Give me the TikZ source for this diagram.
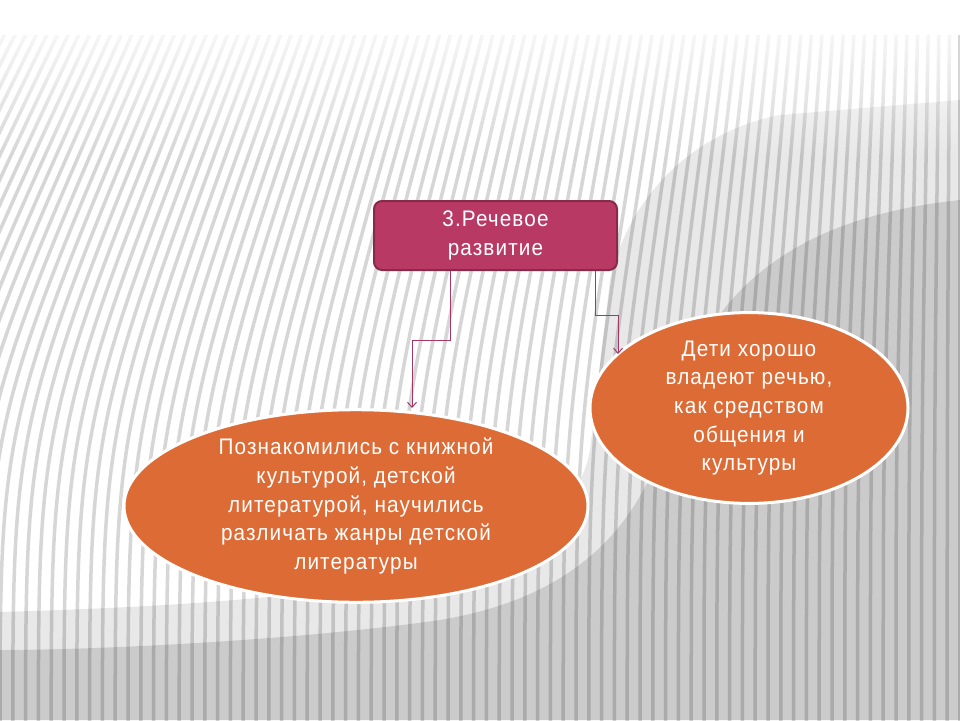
\documentclass[tikz,border=0pt]{standalone}
\usepackage{fontspec}
\newfontfamily\lsans{Liberation Sans}[LetterSpace=5,FakeStretch=0.92]
\usetikzlibrary{shapes.geometric,arrows.meta,fadings}
\tikzfading[name=fadedown, top color=transparent!0, bottom color=transparent!100]
\definecolor{boxfill}{HTML}{B83A64}
\definecolor{boxline}{HTML}{8A2A4A}
\definecolor{orangefill}{HTML}{DD6B35}
\definecolor{conn}{HTML}{A33765}
\tikzset{
  titlebox/.style={draw=boxline, line width=2pt, fill=boxfill, rounded corners=8pt,
    minimum width=243pt, minimum height=69pt, inner sep=0pt, align=center,
    text=white, font=\lsans\fontsize{22.5}{28.5}\selectfont},
  oval/.style={ellipse, draw=white, line width=3pt, fill=orangefill, inner sep=0pt,
    align=center, text=white, font=\lsans\fontsize{22.5}{28.7}\selectfont},
  link/.style={draw=conn, line width=1pt, -{Straight Barb[length=5pt,width=9pt,line width=1pt]}},
  stripe/.style={draw=black!16, line width=3.5pt},
}
\begin{document}
\begin{tikzpicture}[x=1pt,y=-1pt]
\useasboundingbox (0,0) rectangle (960,720);
\fill[white] (0,0) rectangle (960,720);
% stripes
\foreach \i in {-16,...,75}{
  \pgfmathsetmacro{\b}{\i*12.8}
  \pgfmathsetmacro{\t}{\b+170*(1-\b/960)}
  \draw[stripe] (\b,735) .. controls (\b,420) .. (\t,20);
}
% shadows
\fill[black, opacity=0.09] (960,100) -- (780,115) .. controls (700,130) and (630,190) .. (610,280)
  -- (590,450) .. controls (570,560) and (420,600) .. (0,612) -- (0,720) -- (960,720) -- cycle;
\fill[black, opacity=0.12] (960,200) .. controls (820,215) and (710,270) .. (670,420)
  .. controls (640,540) and (560,600) .. (440,620) .. controls (300,640) and (100,650) .. (0,650)
  -- (0,720) -- (960,720) -- cycle;
% top fade
\fill[white, path fading=fadedown] (0,0) rectangle (960,160);
\fill[white] (0,0) rectangle (960,35);
% diagram
\node[titlebox] (title) at (495.5,235.5) {3.Речевое\\развитие};
\node[oval, minimum width=464pt, minimum height=192pt] (left) at (356,506)
  {Познакомились с книжной\\культурой, детской\\литературой, научились\\различать жанры детской\\литературы};
\node[oval, minimum width=318pt, minimum height=156pt] (right) at (749,408)
  {Дети хорошо\\владеют речью,\\как средством\\общения и\\культуры};
\coordinate (lb) at (450,340);
\coordinate (rb) at (595,315);
\draw[link] (title.south -| lb) -- (lb) -- (lb -| 412,0) -- (412,408);
\draw[link] (title.south -| rb) -- (rb) -- (rb -| 618,0) -- (618,354);
\end{tikzpicture}
\end{document}
